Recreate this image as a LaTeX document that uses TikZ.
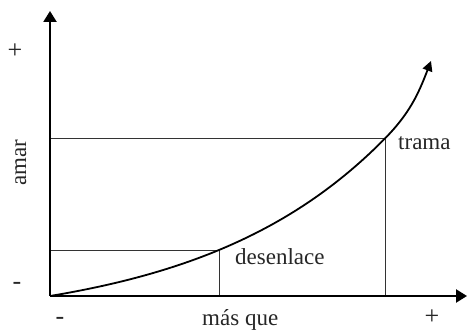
\documentclass[tikz,border=0pt]{standalone}
\usepackage{fontspec}
\setmainfont{Liberation Serif}
\usetikzlibrary{arrows.meta}
\begin{document}
\begin{tikzpicture}[x=1pt,y=1pt,
  axis/.style={line width=2.2pt,-{Triangle[length=11pt,width=13pt]}},
  guide/.style={line width=0.9pt,black!80},
  curveline/.style={line width=1.8pt,-{Triangle[length=10pt,width=10pt]}},
  lbl/.style={inner sep=0pt,text=black!85,font=\fontsize{23}{27}\selectfont},
  signlbl/.style={lbl,font=\fontsize{26}{30}\selectfont}]
\useasboundingbox (0,0) rectangle (468,329);
\coordinate (O) at (50,33);
\coordinate (Ytop) at (50,318);
\coordinate (Xend) at (467,33);
\coordinate (D) at (219,79);
\coordinate (T) at (385,191);
\coordinate (E) at (431,268);
\coordinate (Dy) at (50,79);
\coordinate (Dx) at (219,33);
\coordinate (Ty) at (50,191);
\coordinate (Tx) at (385,33);
\draw[guide] (Dy) -- (D) -- (Dx);
\draw[guide] (Ty) -- (T) -- (Tx);
\draw[axis] (O) -- (Ytop);
\draw[axis] (O) -- (Xend);
\draw[curveline] plot[domain=0:335,samples=80,smooth] ({50+\x},{33+30.85*(exp(0.0054*\x)-1)}) to[out=45.5,in=249] (E);
\node[signlbl,anchor=base] (yplus) at (15,270) {+};
\node[lbl,anchor=base,rotate=90] (amar) at (26,166) {amar};
\node[signlbl,anchor=base] (yminus) at (17,39) {-};
\node[signlbl,anchor=base] (xminus) at (60,5) {-};
\node[lbl,anchor=base west] (masque) at (202,4) {más que};
\node[signlbl,anchor=base] (xplus) at (432,5) {+};
\node[lbl,anchor=base west] (trama) at (398,179) {trama};
\node[lbl,anchor=base west] (desenlace) at (235,64) {desenlace};
\end{tikzpicture}
\end{document}
